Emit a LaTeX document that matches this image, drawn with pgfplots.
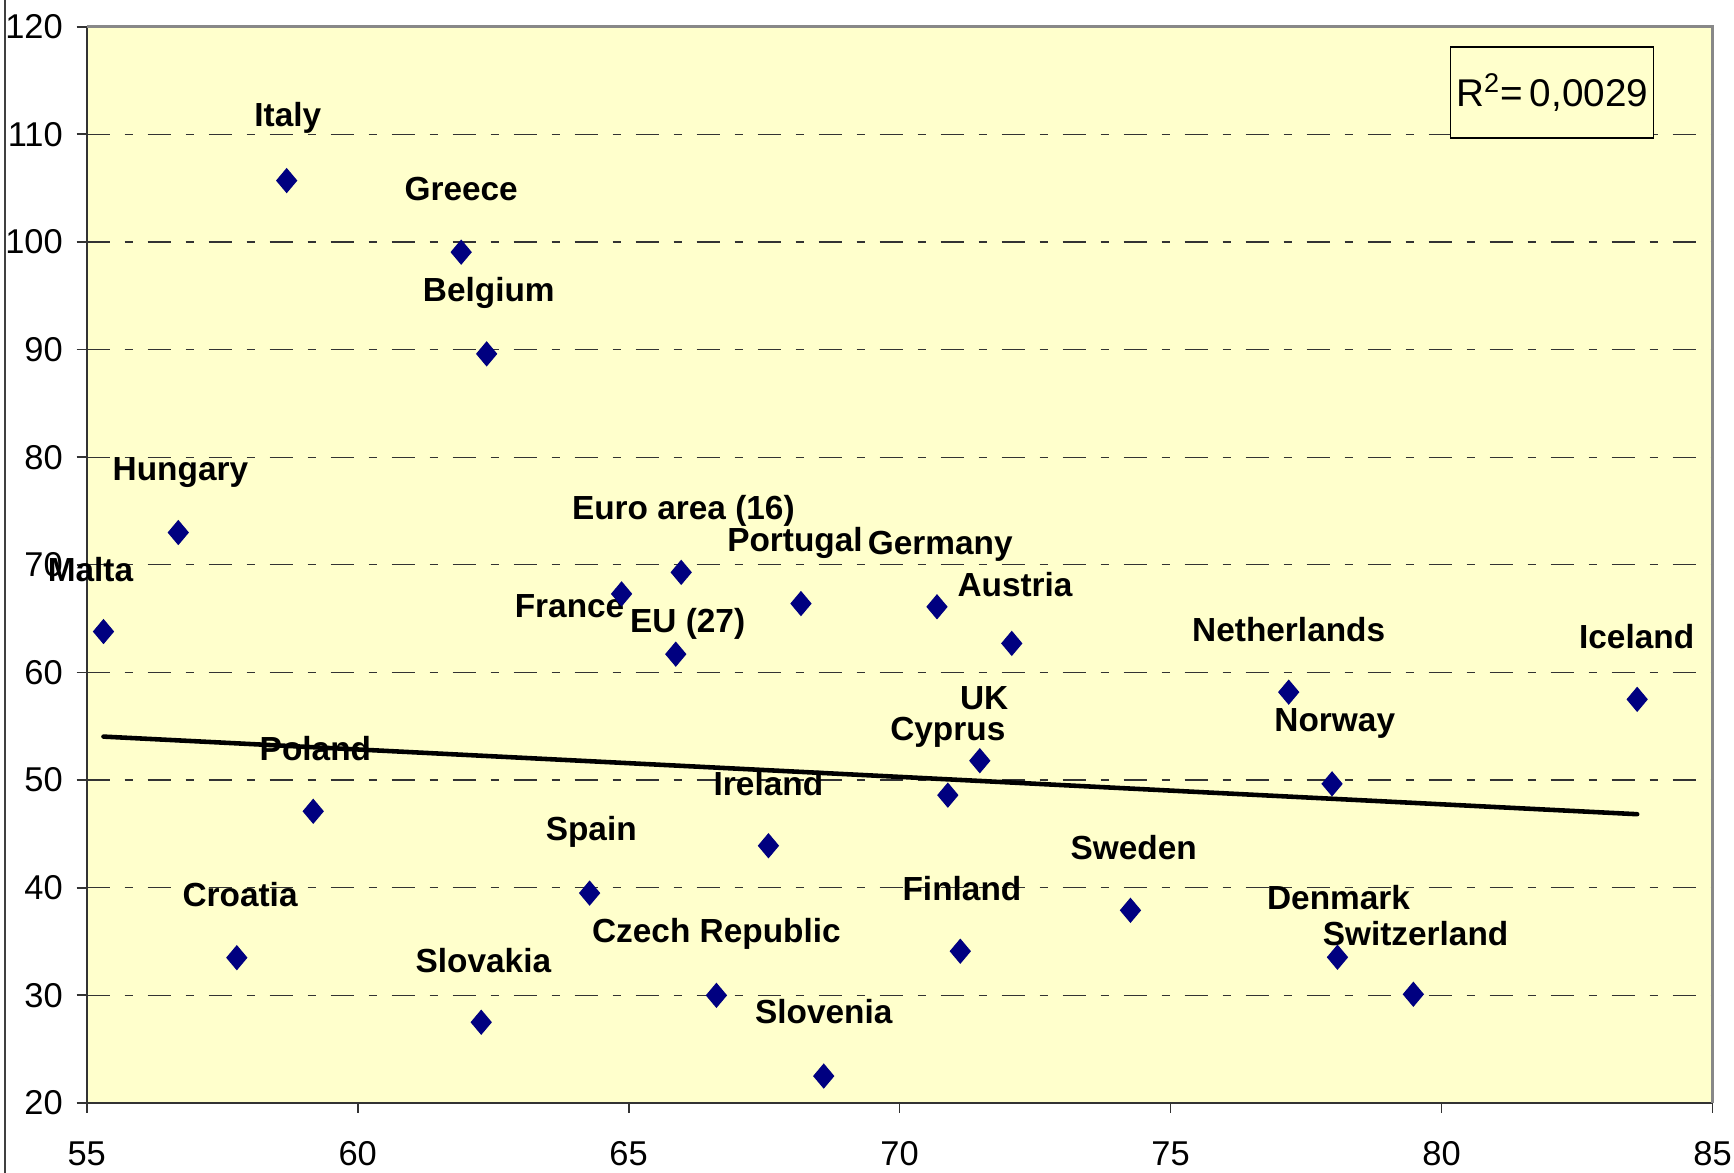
\documentclass[border=0pt]{standalone}
\usepackage{pgfplots}
\pgfplotsset{compat=1.18}
\usepackage{fontspec}
\setmainfont{Liberation Sans}
\definecolor{bgyellow}{HTML}{FFFFCC}
\definecolor{navy}{HTML}{000080}
\definecolor{borderGray}{HTML}{888888}
\newcommand{\lab}[3]{\node[font=\bfseries\fontsize{9.5}{11}\selectfont, inner sep=0pt] at (axis cs:#1,#2) {#3};}
\begin{document}
\begin{tikzpicture}
\path[use as bounding box] (-8.67mm,-7mm) rectangle (164.73mm,110.3mm);
\draw[black!75, line width=0.55pt] (-8.17mm,-7mm) -- (-8.17mm,110.3mm);
\begin{axis}[
  at={(0,0)}, anchor=south west,
  scale only axis, width=162.58mm, height=107.63mm,
  xmin=55, xmax=85, ymin=20, ymax=120,
  xtick={55,60,...,85}, ytick={20,30,...,120},
  axis x line*=bottom, axis y line*=left,
  axis line style={black!80, line width=0.6pt, -},
  axis background/.style={fill=bgyellow},
  tick align=outside, major tick length=1mm,
  tick style={black!80, line width=0.5pt},
  ymajorgrids,
  grid style={black!80, line width=0.35pt, dash pattern=on 2.3mm off 1.5mm on 0.8mm off 1.5mm},
  /pgf/number format/assume math mode=true,
  tick label style={font=\fontsize{9.8}{11}\selectfont},
  xticklabel style={yshift=-1.6mm},
  yticklabel style={xshift=-0.15mm},
  clip=false,
]
\draw[borderGray, line width=0.9pt] (rel axis cs:0,1) -- (rel axis cs:1,1) -- (rel axis cs:1,0);
\addplot[black, line width=1.3pt, line cap=round] coordinates {(55.31,54.04) (83.61,46.83)};
\addplot[only marks, mark=diamond*, mark size=3.3pt, mark options={fill=navy, draw=navy, xscale=1.12}] table {
x y
55.31 63.8
56.69 73.0
58.69 105.7
57.77 33.5
59.18 47.1
61.91 99.05
62.38 89.6
62.28 27.5
64.28 39.5
64.87 67.3
65.87 61.7
65.97 69.3
66.62 30.0
67.58 43.9
68.18 66.4
68.60 22.5
70.69 66.1
70.89 48.6
71.12 34.1
71.48 51.8
72.07 62.7
74.26 37.9
77.18 58.17
77.98 49.65
78.08 33.54
79.48 30.1
83.61 57.5
};
\lab{58.71}{111.57}{Italy}
\lab{61.91}{104.89}{Greece}
\lab{62.42}{95.25}{Belgium}
\lab{56.73}{78.6}{Hungary}
\lab{55.07}{69.6}{Malta}
\lab{66.01}{75.0}{Euro area (16)}
\lab{68.07}{72.0}{Portugal}
\lab{70.75}{71.7}{Germany}
\lab{72.13}{68.2}{Austria}
\lab{63.91}{66.2}{France}
\lab{66.09}{64.55}{EU (27)}
\lab{77.18}{64.0}{Netherlands}
\lab{83.60}{63.3}{Iceland}
\lab{71.56}{57.64}{UK}
\lab{70.89}{54.4}{Cyprus}
\lab{78.03}{55.3}{Norway}
\lab{59.22}{52.9}{Poland}
\lab{67.58}{49.7}{Ireland}
\lab{64.31}{45.2}{Spain}
\lab{74.32}{43.7}{Sweden}
\lab{57.83}{39.4}{Croatia}
\lab{71.15}{39.9}{Finland}
\lab{78.10}{39.1}{Denmark}
\lab{66.62}{35.7}{Czech Republic}
\lab{79.52}{35.7}{Switzerland}
\lab{62.32}{33.2}{Slovakia}
\lab{68.6}{28.5}{Slovenia}
\node[draw=black, line width=0.45pt, fill=bgyellow, minimum width=20.3mm, minimum height=9.1mm, inner sep=0pt, font=\fontsize{11}{13}\selectfont] at (axis cs:82.04,113.9) {R\textsuperscript{2}=\,0,0029};
\end{axis}
\end{tikzpicture}
\end{document}
